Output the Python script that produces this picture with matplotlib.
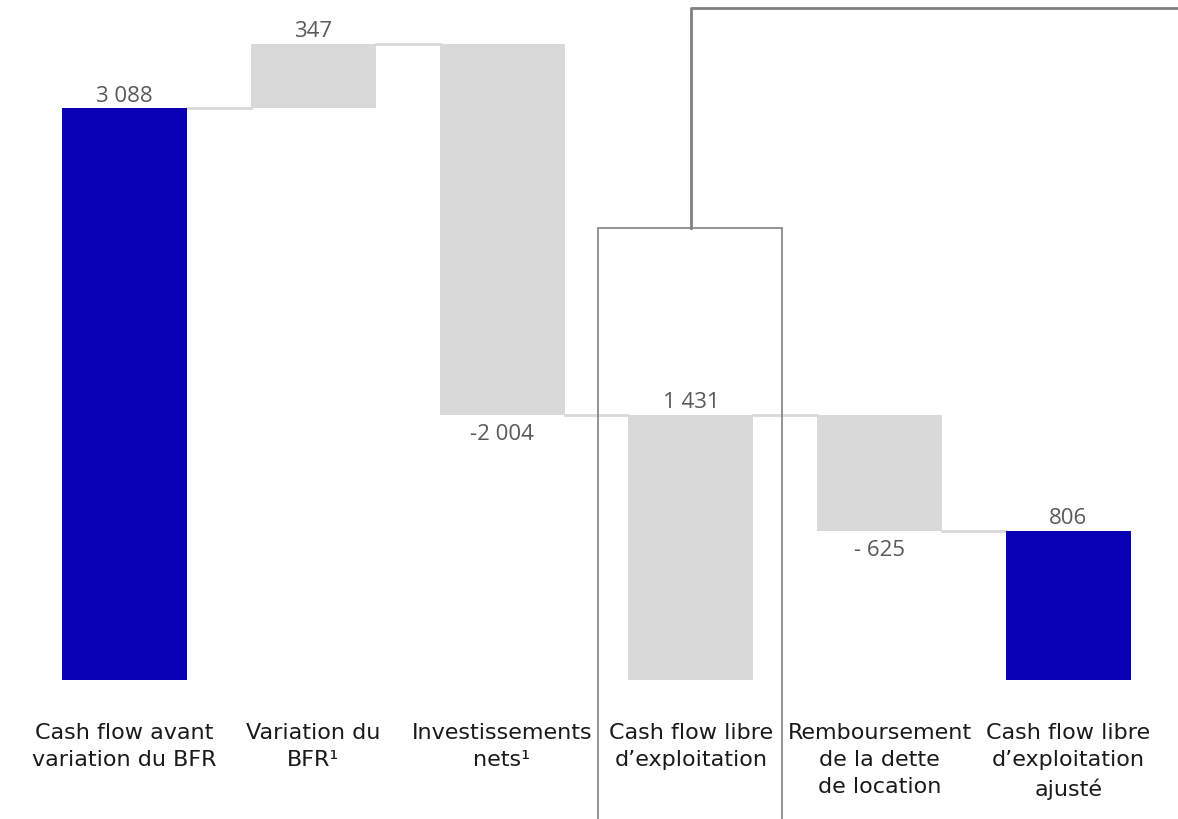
import matplotlib.pyplot as plt
from matplotlib.patches import Rectangle

categories = ["Cash flow avant\nvariation du BFR", "Variation du\nBFR\u00b9",
              "Investissements\nnets\u00b9", "Cash flow libre\nd\u2019exploitation",
              "Remboursement\nde la dette\nde location", "Cash flow libre\nd\u2019exploitation\najust\u00e9"]
values = [3088, 347, -2004, 1431, -625, 806]
kinds = ["total", "delta", "delta", "total", "delta", "total"]
value_labels = ["3 088", "347", "-2 004", "1 431", "- 625", "806"]

blue = "#0A00B4"
grey = "#D9D9D9"

fig = plt.figure(figsize=(11.78, 8.19), dpi=100)
ax = fig.add_axes([0, 0, 1, 1])
ax.set_xlim(-0.659, 5.580)
ax.set_ylim(-750, 3671)
ax.axis("off")

width = 0.662
running = 0
tops = []
for i, (v, k) in enumerate(zip(values, kinds)):
    if k == "total":
        bottom, height = 0, v
        running = v
        color = blue if i != 3 else grey
    else:
        bottom, height = running, v
        running = running + v
        color = grey
    ax.bar(i, height, bottom=bottom, width=width, color=color, zorder=2)
    tops.append(running)
    hi = max(bottom, bottom + height)
    lo = min(bottom, bottom + height)
    if v >= 0:
        ax.text(i, hi + 8, value_labels[i], ha="center", va="bottom",
                fontsize=16, color="#595959", family="Open Sans")
    else:
        ax.text(i, lo - 50, value_labels[i], ha="center", va="top",
                fontsize=16, color="#595959", family="Open Sans")
    ax.text(i, -232, categories[i], ha="center", va="top", fontsize=16,
            color="#1a1a1a", family="DejaVu Sans", linespacing=1.45)

# connectors
for i in range(len(values) - 1):
    ax.plot([i + width / 2, i + 1 - width / 2], [tops[i], tops[i]],
            color="#d9d9d9", lw=2, zorder=1)

# highlight box around free cash flow
ax.add_patch(Rectangle((2.508, -800), 0.975, 2441 + 800, fill=False,
                       edgecolor="#808080", lw=1.2, zorder=3))
ax.plot([3, 3, 5.7], [2441, 3628, 3628], color="#808080", lw=2, zorder=3)

fig.savefig("out.png", dpi=100)
